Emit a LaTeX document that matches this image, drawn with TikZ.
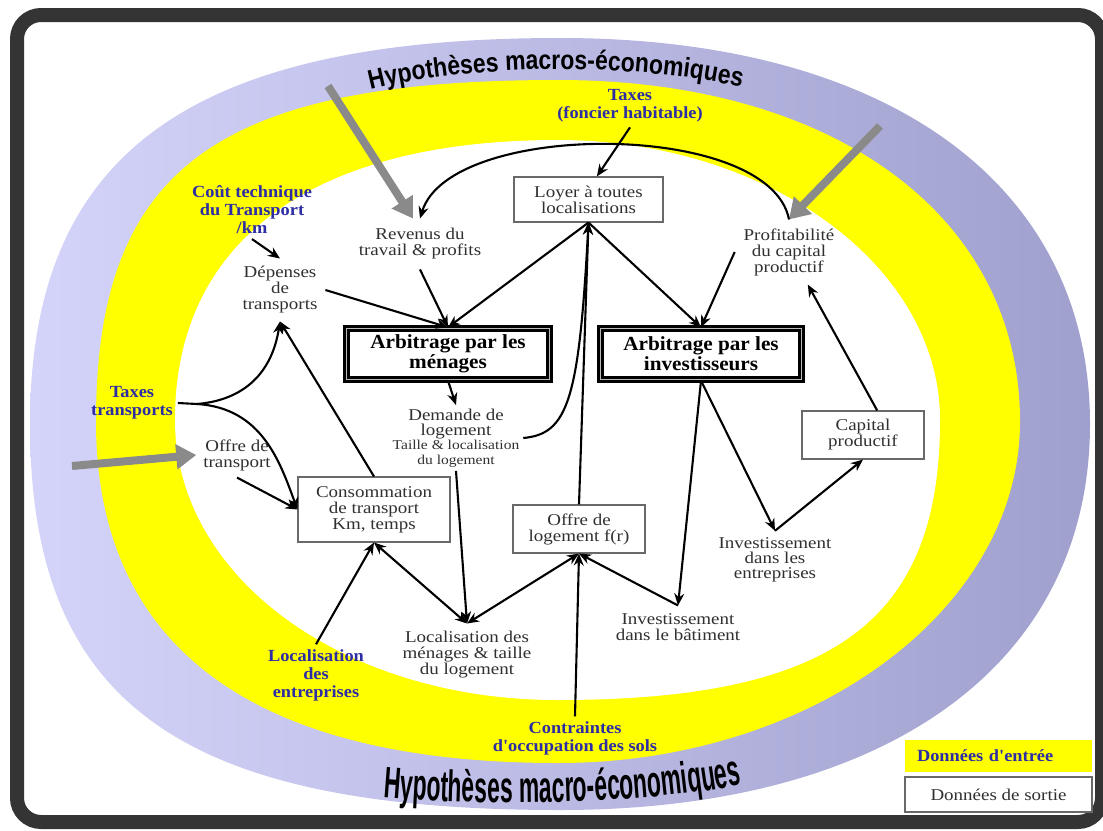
\documentclass[tikz,border=0pt]{standalone}
\usepackage{fontspec}
\usetikzlibrary{arrows.meta,decorations.text}

\newfontfamily\txtfamily[FakeStretch=1.15]{Liberation Serif}
\newfontfamily\blufamily[FakeStretch=1.08]{Liberation Serif}
\newfontfamily\arbfamily[FakeStretch=1.06]{Liberation Serif}
\newfontfamily\hyptop[FakeStretch=0.85]{Liberation Sans}
\newfontfamily\hypbot[FakeStretch=0.52]{Liberation Sans}

\definecolor{lavL}{RGB}{212,212,250}
\definecolor{lavR}{RGB}{160,160,206}
\definecolor{ringyellow}{RGB}{255,255,0}
\definecolor{framegray}{RGB}{52,52,52}
\definecolor{boxgray}{RGB}{105,105,105}
\definecolor{txtgray}{RGB}{48,48,48}
\definecolor{inblue}{RGB}{45,45,165}
\definecolor{arrowgray}{RGB}{138,138,138}

\tikzset{
  txt/.style={font={\txtfamily\fontsize{16.5}{16}\selectfont}, text=txtgray,
    align=center, inner sep=1pt, outer sep=5pt},
  inp/.style={font={\blufamily\bfseries\fontsize{17}{18}\selectfont}, text=inblue,
    align=center, inner sep=1pt, outer sep=4pt},
  outbox/.style={draw=boxgray, line width=1.1pt, fill=white, text=txtgray,
    font={\txtfamily\fontsize{16.5}{16}\selectfont}, align=center, inner sep=0pt},
  arbbox/.style={draw=black, line width=2.4pt, double=gray!55, double distance=1.6pt,
    fill=white, font={\arbfamily\bfseries\fontsize{20}{20}\selectfont},
    align=center, inner sep=0pt},
  conn/.style={line width=2.1pt, -{Stealth[length=12pt,width=10pt]}},
  conntwo/.style={line width=2.1pt, {Stealth[length=12pt,width=10pt]}-{Stealth[length=12pt,width=10pt]}},
  bigarrow/.style={line width=8pt, draw=arrowgray, -{Triangle[length=20pt,width=24pt]}},
}

\begin{document}
\begin{tikzpicture}[x=1pt,y=-1pt]
\useasboundingbox (0,0) rectangle (1103,830);
\fill[white] (0,0) rectangle (1103,830);

% outer ring: macro-economic assumptions
\begin{scope}[shift={(560,424)}, xscale=530, yscale=386]
  \shade[left color=lavL, right color=lavR]
    (1,0) .. controls (1,0.62) and (0.62,1) .. (0,1)
    .. controls (-0.72,1) and (-1,0.72) .. (-1,0)
    .. controls (-1,-0.7) and (-0.7,-1) .. (0,-1)
    .. controls (0.62,-1) and (1,-0.62) .. (1,0) -- cycle;
\end{scope}
% middle ring: input data
\begin{scope}[shift={(558,421.5)}, xscale=462, yscale=341.5]
  \fill[ringyellow]
    (1,0) .. controls (1,0.55) and (0.55,1) .. (0,1)
    .. controls (-0.66,1) and (-1,0.66) .. (-1,0)
    .. controls (-1,-0.74) and (-0.74,-1) .. (0,-1)
    .. controls (0.6,-1) and (1,-0.6) .. (1,0) -- cycle;
\end{scope}
% inner area: model outputs
\begin{scope}[shift={(557.5,420)}, xscale=382.5, yscale=280]
  \fill[white]
    (1,0) .. controls (1,0.72) and (0.72,1) .. (0,1)
    .. controls (-0.56,1) and (-1,0.56) .. (-1,0)
    .. controls (-1,-0.64) and (-0.64,-1) .. (0,-1)
    .. controls (0.55,-1) and (1,-0.55) .. (1,0) -- cycle;
\end{scope}

% frame
\draw[line width=14pt, framegray, rounded corners=24pt] (17,15) rectangle (1102,822);

% curved titles
\path[decorate, decoration={text along path, text align=center,
  text={|\hyptop\bfseries\fontsize{27}{27}\selectfont|Hypothèses macros-économiques}}]
  (358,93) .. controls (468,62) and (642,62) .. (754,90);
\path[decorate, decoration={text along path, text align=center,
  text={|\hypbot\bfseries\fontsize{44}{44}\selectfont|Hypothèses macro-économiques}}]
  (375,797) .. controls (470,806) and (640,806) .. (750,783);

% output boxes
\node[outbox, minimum width=149pt, minimum height=45pt] (loyer) at (588.5,199.5) {Loyer à toutes\\localisations};
\node[outbox, minimum width=152pt, minimum height=65pt] (conso) at (374,509.5) {Consommation\\de transport\\Km, temps};
\node[outbox, minimum width=132pt, minimum height=48pt] (offre) at (579,529) {Offre de\\logement f(r)};
\node[outbox, minimum width=122pt, minimum height=48pt] (capital) at (863,435) {Capital\\productif};
\node[arbbox, minimum width=203pt, minimum height=51pt] (arbM) at (448,354) {Arbitrage par les\\ménages};
\node[arbbox, minimum width=201pt, minimum height=51pt] (arbI) at (701,354) {Arbitrage par les\\investisseurs};

% output quantities
\node[txt, outer ysep=9pt] (revenus) at (420,244) {Revenus du\\travail \& profits};
\node[txt, outer sep=8pt] (profit) at (789,252) {Profitabilité\\du capital\\productif};
\node[txt, outer sep=7pt] (depenses) at (280,290) {Dépenses\\de\\transports};
\node[txt, outer sep=3pt, font={\txtfamily\fontsize{16.5}{14.5}\selectfont}] (demande) at (456,438)
  {Demande de\\logement\\{\fontsize{13.5}{14}\selectfont Taille \& localisation}\\{\fontsize{13.5}{14}\selectfont du logement}};
\node[txt, outer sep=6pt] (offreT) at (237,455) {Offre de\\transport};
\node[txt, outer sep=6pt, font={\txtfamily\fontsize{16.5}{15}\selectfont}] (invE) at (775,560) {Investissement\\dans les\\entreprises};
\node[txt, outer sep=7pt] (invB) at (678,627) {Investissement\\dans le bâtiment};
\node[txt, outer sep=7pt] (locM) at (467,655) {Localisation des\\ménages \& taille\\du logement};

% input data
\node[inp] (taxF) at (630,106) {Taxes\\(foncier habitable)};
\node[inp] (cout) at (252,210) {Coût technique\\du Transport\\/km};
\node[inp] (taxT) at (132,403) {Taxes\\transports};
\node[inp] (locE) at (316,675) {Localisation\\des\\entreprises};
\node[inp] (contr) at (575,738) {Contraintes\\d'occupation des sols};

% legend
\node[inp, fill=ringyellow, minimum width=187pt, minimum height=32pt, text width=163pt,
  align=left, inner sep=0pt, outer sep=0pt] (legIn) at (998.5,756) {Données d'entrée};
\node[outbox, minimum width=187pt, minimum height=35pt] (legOut) at (998.5,794.5) {Données de sortie};

% exogenous shocks
\coordinate (gA) at (328,86);
\coordinate (gB) at (880,126);
\coordinate (gC) at (72,466);
\draw[bigarrow] (gA) -- ([xshift=-7pt]revenus.north);
\draw[bigarrow] (gB) -- (profit.north);
\draw[bigarrow] (gC) -- (offreT.west);

% transport branch
\coordinate (fork) at (197,404);
\draw[line width=2.1pt] (taxT.east) -- (fork);
\draw[conn] (fork) .. controls (245,400) and (272,372) .. (depenses.south);
\draw[conn] (fork) .. controls (262,408) and (280,462) .. (conso.west);
\draw[conn] (offreT.south) -- (conso.west);
\draw[conn] (conso.north) -- (depenses.south);
\draw[conn] (cout.south) -- (depenses.north);

% household side
\draw[conn] (depenses.east) -- (arbM.north);
\draw[conn] (revenus.south) -- (arbM.north);
\draw[conn] (loyer.south) -- (arbM.north);
\draw[conn] (arbM.south) -- (demande.north);
\draw[conn] (demande.south) -- (locM.north);
\draw[conntwo] (locM.north) -- (conso.south);
\draw[conn] (locE.north) -- (conso.south);
\draw[conn] (demande.east) .. controls (568,434) and (579,400) .. (loyer.south);

% investor side
\draw[conn] (loyer.south) -- (arbI.north);
\draw[conn] (profit.west) -- (arbI.north);
\draw[conn] (capital.60) -- (profit.-60);
\draw[conn] (arbI.south) -- (invE.north);
\draw[conn] (invE.north) -- (capital.south);
\draw[conn] (arbI.south) -- (invB.north);

% housing market
\draw[conn] (invB.north) -- (offre.south);
\draw[conntwo] (locM.north) -- (offre.south);
\draw[conn] (contr.north) -- (offre.south);
\draw[conn] (offre.north) -- (loyer.south);
\draw[conn] (taxF.south) -- (loyer.70);
\draw[conn] (profit.north) .. controls (770,120) and (450,120) .. (revenus.north);
\end{tikzpicture}
\end{document}
